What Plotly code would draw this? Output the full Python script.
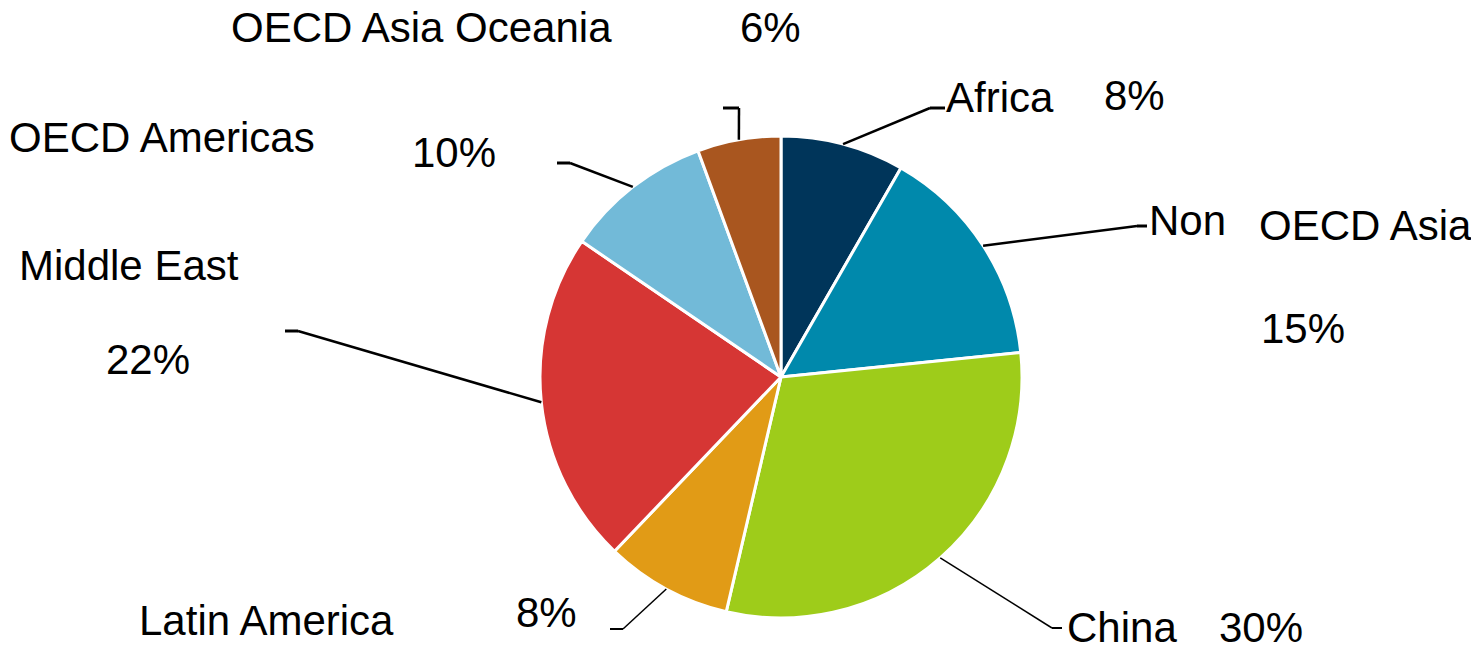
import math
import plotly.graph_objects as go

W, H = 1479, 648
OX, OY = 8, 8      # page body margin offset
TX = 3             # annotation inner padding

regions = ["Africa", "Non OECD Asia", "China", "Latin America",
           "Middle East", "OECD Americas", "OECD Asia Oceania"]
shares = [8.3, 15.1, 30.3, 8.5, 22.4, 9.9, 5.6]
colors = ["#00355A", "#0089AC", "#9ECC1A", "#E19B16",
          "#D63634", "#72BAD8", "#A9561F"]

# label text pieces (name parts) and their layout positions in pixels (left x, middle y)
name_parts = {
    "Africa": [("Africa", 947, 97)],
    "Non OECD Asia": [("Non", 1150, 220), ("OECD Asia", 1260, 226)],
    "China": [("China", 1068, 627)],
    "Latin America": [("Latin America", 140, 620)],
    "Middle East": [("Middle East", 20, 265)],
    "OECD Americas": [("OECD Americas", 10, 137)],
    "OECD Asia Oceania": [("OECD Asia Oceania", 232, 27)],
}
pct_pos = {
    "Africa": (1105, 96),
    "Non OECD Asia": (1262, 328),
    "China": (1220, 627),
    "Latin America": (517, 612),
    "Middle East": (107, 359),
    "OECD Americas": (413, 152),
    "OECD Asia Oceania": (741, 27),
}
# leader line elbow and end (pixels)
leader = {
    "Africa": ((930, 108), (945, 108), 2.5),
    "Non OECD Asia": ((1137, 226), (1147, 226), 2.5),
    "China": ((1052, 628), (1062, 628), 1.5),
    "Latin America": ((623, 629), (610, 629), 1.5),
    "Middle East": ((298, 331), (285, 331), 2.5),
    "OECD Americas": ((570, 163), (557, 163), 2.5),
    "OECD Asia Oceania": ((739, 108), (723, 108), 2.5),
}

cx, cy, r = 781, 377, 241


def px(x):
    return (x - OX) / W


def py(y):
    return 1 - (y - OY) / H


fig = go.Figure(go.Pie(
    labels=regions, values=shares, sort=False, direction="clockwise",
    rotation=0, textinfo="none", hoverinfo="label+percent",
    marker=dict(colors=colors, line=dict(color="white", width=3)),
    domain=dict(x=[px(cx - r), px(cx + r)], y=[py(cy + r), py(cy - r)]),
    showlegend=False,
))

total = sum(shares)
annotations = []
shapes = []
cum = 0.0
for name, v in zip(regions, shares):
    mid = (cum + v / 2) / total * 2 * math.pi
    cum += v
    ax = cx + r * math.sin(mid)
    ay = cy - r * math.cos(mid)
    (ex, ey), (tx, ty), lw = leader[name]
    shapes.append(dict(type="line", xref="paper", yref="paper",
                       x0=px(ax), y0=py(ay), x1=px(ex), y1=py(ey),
                       line=dict(color="black", width=lw)))
    shapes.append(dict(type="line", xref="paper", yref="paper",
                       x0=px(ex), y0=py(ey), x1=px(tx), y1=py(ty),
                       line=dict(color="black", width=lw + 0.5)))
    for txt, x, y in name_parts[name]:
        annotations.append(dict(text=txt, x=px(x - TX), y=py(y), xref="paper", yref="paper",
                                xanchor="left", yanchor="middle", showarrow=False,
                                font=dict(size=42, color="black")))
    pct = f"{round(v / total * 100)}%"
    x, y = pct_pos[name]
    annotations.append(dict(text=pct, x=px(x - TX), y=py(y), xref="paper", yref="paper",
                            xanchor="left", yanchor="middle", showarrow=False,
                            font=dict(size=42, color="black")))

fig.update_layout(
    width=W, height=H, margin=dict(l=0, r=0, t=0, b=0),
    paper_bgcolor="white", plot_bgcolor="white",
    font=dict(family="Liberation Sans, Arial, sans-serif", color="black"),
    annotations=annotations, shapes=shapes,
)

fig.write_html("out.html")
